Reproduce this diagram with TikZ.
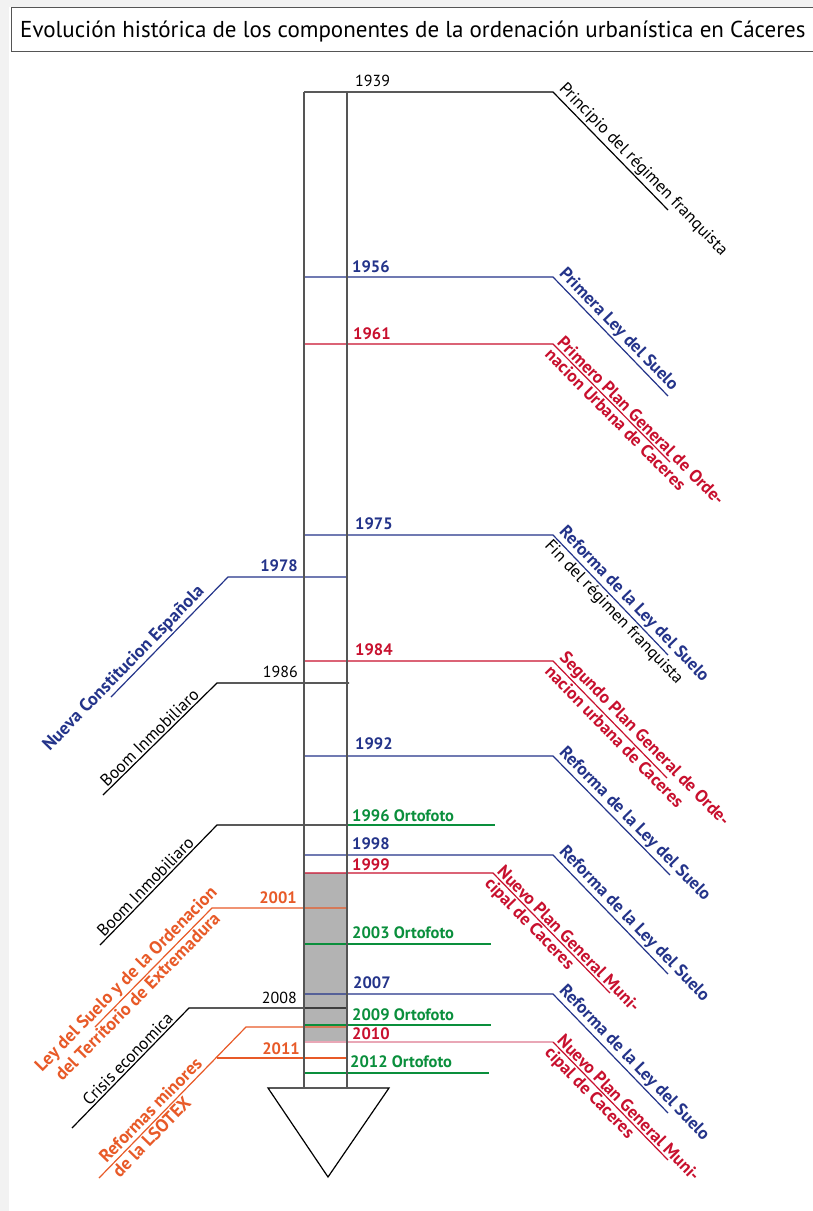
\documentclass[tikz,border=0pt]{standalone}
\usepackage{fontspec}
\setmainfont{PT Sans}
\definecolor{navy}{HTML}{24348A}
\definecolor{crim}{HTML}{C8102E}
\definecolor{grn}{HTML}{0A8F3C}
\definecolor{orng}{HTML}{E85A28}
\definecolor{pinkl}{HTML}{E9A7B6}
\definecolor{axisc}{HTML}{555555}
\definecolor{fillgray}{HTML}{B3B3B3}
\definecolor{bgstrip}{HTML}{F2F2F2}
\tikzset{
  ln/.style={line width=1.2pt},
  yrr/.style={font=\fontsize{16}{18}\selectfont, inner sep=0pt},
  yrb/.style={font=\fontsize{16.5}{18}\selectfont\bfseries, inner sep=0pt},
  dreg/.style={font=\fontsize{17}{19}\selectfont, inner sep=2pt, sloped},
  dbold/.style={font=\fontsize{17.5}{19}\selectfont\bfseries, inner sep=2pt, sloped},
  lbold/.style={font=\fontsize{18}{20}\selectfont\bfseries, inner sep=2pt, sloped},
}
\begin{document}
\begin{tikzpicture}[x=1pt,y=-1pt]
\useasboundingbox (0,0) rectangle (813,1211);
\fill[white] (0,0) rectangle (813,1211);
\fill[bgstrip] (0,0) rectangle (9,1211);
\fill[bgstrip] (0,0) rectangle (813,7);
% title
\draw[axisc, line width=1pt, fill=white] (11,7.5) rectangle (820,51.5);
\node[font=\fontsize{23}{26}\selectfont, anchor=base west, inner sep=0pt] (title) at (20,37.5) {Evolución histórica de los componentes de la ordenación urbanística en Cáceres};

% shaded period
\fill[fillgray] (304,873) rectangle (347,1042);

% ---------- coordinates ----------
\coordinate (L39) at (304,92);   \coordinate (B39) at (553,92);   \coordinate (E39) at (668,210);
\coordinate (L56) at (304,277);  \coordinate (B56) at (553,277);  \coordinate (E56) at (668,396);
\coordinate (L61) at (304,344);  \coordinate (B61) at (553,344);  \coordinate (E61) at (670,462);
\coordinate (L75) at (304,535);  \coordinate (B75) at (553,535);  \coordinate (E75) at (668,655);
\coordinate (L84) at (304,661);  \coordinate (B84) at (553,661);  \coordinate (E84) at (667,778);
\coordinate (L92) at (304,756);  \coordinate (B92) at (553,756);  \coordinate (E92) at (670,875);
\coordinate (L98) at (304,855);  \coordinate (B98) at (553,855);  \coordinate (E98) at (668,974);
\coordinate (L99) at (304,873);  \coordinate (B99) at (493,873);  \coordinate (E99) at (610,993);
\coordinate (L07) at (304,994);  \coordinate (B07) at (553,994);  \coordinate (E07) at (668,1113);
\coordinate (L10) at (304,1042); \coordinate (B10) at (553,1042); \coordinate (E10) at (668,1160);
% green
\coordinate (G96a) at (347,825);  \coordinate (G96b) at (495,825);
\coordinate (G03a) at (304,944);  \coordinate (G03b) at (491,944);
\coordinate (G09a) at (304,1025); \coordinate (G09b) at (491,1025);
\coordinate (G12a) at (304,1073); \coordinate (G12b) at (489,1073);
% left side
\coordinate (R78) at (347,577);  \coordinate (K78) at (228,577);  \coordinate (D78) at (111,697);
\coordinate (R86) at (349,683);  \coordinate (K86) at (217,683);  \coordinate (D86) at (103,795);
\coordinate (R96) at (347,825);  \coordinate (K96) at (217,825);  \coordinate (D96) at (100,945);
\coordinate (R01) at (347,908);  \coordinate (K01) at (212,908);  \coordinate (D01) at (95,1027);
\coordinate (R08) at (347,1008); \coordinate (K08) at (189,1008); \coordinate (D08) at (72,1128);
\coordinate (R10) at (347,1027); \coordinate (K10) at (246,1027); \coordinate (D10) at (99,1178);
\coordinate (R11) at (347,1058); \coordinate (K11) at (217,1058);

% ---------- lines ----------
\draw[ln, black] (L39) -- (B39) -- (E39);
\draw[ln, navy] (L56) -- (B56) -- (E56);
\draw[ln, crim] (L61) -- (B61) -- (E61);
\draw[ln, navy] (L75) -- (B75) -- (E75);
\draw[ln, crim] (L84) -- (B84) -- (E84);
\draw[ln, navy] (L92) -- (B92) -- (E92);
\draw[ln, navy] (L98) -- (B98) -- (E98);
\draw[ln, crim] (L99) -- (B99) -- (E99);
\draw[ln, navy] (L07) -- (B07) -- (E07);
\draw[ln, pinkl] (L10) -- (B10);
\draw[ln, crim] (B10) -- (E10);
\draw[ln, grn] (G96a) -- (G96b);
\draw[ln, grn] (G03a) -- (G03b);
\draw[ln, grn] (G09a) -- (G09b);
\draw[ln, grn] (G12a) -- (G12b);
\draw[ln, navy] (R78) -- (K78) -- (D78);
\draw[ln, black] (R86) -- (K86) -- (D86);
\draw[ln, black] (R96) -- (K96) -- (D96);
\draw[ln, orng] (R01) -- (K01) -- (D01);
\draw[ln, black] (R08) -- (K08) -- (D08);
\draw[ln, orng] (R10) -- (K10) -- (D10);
\draw[ln, orng] (R11) -- (K11);

% ---------- axis ----------
\coordinate (VLt) at (304,92); \coordinate (VLb) at (304,1087);
\coordinate (VRt) at (347,92); \coordinate (VRb) at (347,1087);
\draw[axisc, line width=1.6pt] (VLt) -- (VLb);
\draw[axisc, line width=1.6pt] (VRt) -- (VRb);
\coordinate (T1) at (268,1088); \coordinate (T2) at (389,1088); \coordinate (T3) at (328,1177);
\draw[black, line width=1.2pt, line join=miter] (T1) -- (T2) -- (T3) -- cycle;

% ---------- year labels ----------
\node[yrr, anchor=base west] (y39) at (355,86) {1939};
\node[yrb, navy, anchor=base west] (y56) at (352,272) {1956};
\node[yrb, crim, anchor=base west] (y61) at (353,339) {1961};
\node[yrb, navy, anchor=base west] (y75) at (355,529) {1975};
\node[yrb, crim, anchor=base west] (y84) at (355,655) {1984};
\node[yrb, navy, anchor=base west] (y92) at (355,749) {1992};
\node[yrb, grn, anchor=base west] (y96) at (352,821) {1996 Ortofoto};
\node[yrb, navy, anchor=base west] (y98) at (352,849) {1998};
\node[yrb, crim, anchor=base west] (y99) at (352,870) {1999};
\node[yrb, grn, anchor=base west] (y03) at (352,938) {2003 Ortofoto};
\node[yrb, navy, anchor=base west] (y07) at (353,988) {2007};
\node[yrb, grn, anchor=base west] (y09) at (352,1020) {2009 Ortofoto};
\node[yrb, crim, anchor=base west] (y10) at (352,1039) {2010};
\node[yrb, grn, anchor=base west] (y12) at (350,1067) {2012 Ortofoto};
\node[yrb, navy, anchor=base east] (y78) at (298,571) {1978};
\node[yrr, anchor=base east] (y86) at (298,677) {1986};
\node[yrb, orng, anchor=base east] (y01) at (297,903) {2001};
\node[yrr, anchor=base east] (y08) at (297,1003) {2008};
\node[yrb, orng, anchor=base east] (y11) at (300,1054) {2011};

% ---------- right diagonal texts ----------
\path (B39) -- (E39) node[dreg, pos=0, anchor=south west] (t39) {Principio del régimen franquista};
\path (B56) -- (E56) node[dbold, navy, pos=0, anchor=south west] (t56) {Primera Ley del Suelo};
\path (B61) -- (E61) node[dbold, crim, pos=0, anchor=south west] (t61a) {Primero Plan General de Orde-};
\path (B61) -- (E61) node[dbold, crim, pos=0, anchor=north west] (t61b) {nacion Urbana de Caceres};
\path (B75) -- (E75) node[dbold, navy, pos=0, anchor=south west] (t75a) {Reforma de la Ley del Suelo};
\path (B75) -- (E75) node[dreg, pos=0, anchor=north west] (t75b) {Fin del régimen franquista};
\path (B84) -- (E84) node[dbold, crim, pos=0, anchor=south west] (t84a) {Segundo Plan General de Orde-};
\path (B84) -- (E84) node[dbold, crim, pos=0, anchor=north west] (t84b) {nacion urbana de Caceres};
\path (B92) -- (E92) node[dbold, navy, pos=0, anchor=south west] (t92) {Reforma de la Ley del Suelo};
\path (B98) -- (E98) node[dbold, navy, pos=0, anchor=south west] (t98) {Reforma de la Ley del Suelo};
\path (B99) -- (E99) node[dbold, crim, pos=0, anchor=south west] (t99a) {Nuevo Plan General Muni-};
\path (B99) -- (E99) node[dbold, crim, pos=0, anchor=north west] (t99b) {cipal de Caceres};
\path (B07) -- (E07) node[dbold, navy, pos=0, anchor=south west] (t07) {Reforma de la Ley del Suelo};
\path (B10) -- (E10) node[dbold, crim, pos=0, anchor=south west] (t10a) {Nuevo Plan General Muni-};
\path (B10) -- (E10) node[dbold, crim, pos=0, anchor=north west] (t10b) {cipal de Caceres};

% ---------- left diagonal texts ----------
\path (D78) -- (K78) node[lbold, navy, pos=0.85, anchor=south east] (t78) {Nueva Constitucion Española};
\path (D86) -- (K86) node[dreg, pos=0.88, anchor=south east] (t86) {Boom Inmobiliaro};
\path (D96) -- (K96) node[dreg, pos=0.84, anchor=south east] (t96) {Boom Inmobiliaro};
\path (D01) -- (K01) node[lbold, orng, pos=1.1, anchor=south east] (t01a) {Ley del Suelo y de la Ordenacion};
\path (D01) -- (K01) node[lbold, orng, pos=1, anchor=north east] (t01b) {del Territorio de Extremadura};
\path (D08) -- (K08) node[dreg, pos=0.9, anchor=south east] (t08) {Crisis economica};
\path (D10) -- (K10) node[lbold, orng, pos=0.75, anchor=south east, inner sep=4pt] (t10c) {Reformas minores};
\path (D10) -- (K10) node[lbold, orng, pos=0.57, anchor=north east] (t10d) {de la LSOTEX};
\end{tikzpicture}
\end{document}
